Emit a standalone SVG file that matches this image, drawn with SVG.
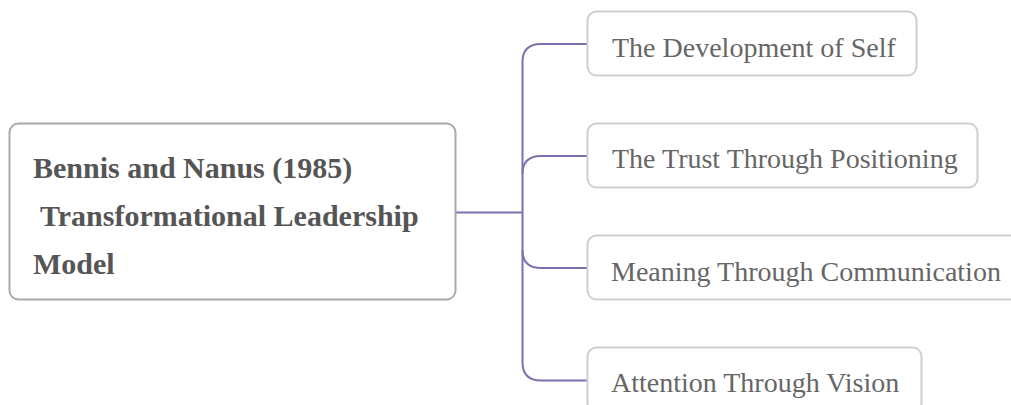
<svg xmlns="http://www.w3.org/2000/svg" width="1011" height="405" viewBox="0 0 1011 405">
<style>
.box{fill:#fff;stroke:#d0cece;stroke-width:2}
.main{fill:#fff;stroke:#aaa;stroke-width:2}
.ct{font-family:"Liberation Serif","Times New Roman",serif;font-size:28px;fill:#666}
.mt{font-family:"Liberation Serif","Times New Roman",serif;font-size:30px;font-weight:bold;fill:#555}
.conn{fill:none;stroke:#7b70b3;stroke-width:2}
</style>
<rect width="1011" height="405" fill="#fff"/>
<g id="connectors">
<path class="conn" d="M456 212.5 H522.5"/>
<path class="conn" d="M587 44 H541 Q522.5 44 522.5 62 V362 Q522.5 380.5 541 380.5 H587"/>
<path class="conn" d="M587 156 H541 Q522.5 156 522.5 174"/>
<path class="conn" d="M587 268 H541 Q522.5 268 522.5 250"/>
</g>
<g id="root">
<rect class="main" x="9.5" y="123.5" width="446" height="176" rx="9"/>
<text class="mt" x="33" y="178">Bennis and Nanus (1985)</text>
<text class="mt" x="40" y="226">Transformational Leadership</text>
<text class="mt" x="33" y="274">Model</text>
</g>
<g id="n1">
<rect class="box" x="587.5" y="11.5" width="329" height="64" rx="9"/>
<text class="ct" x="612" y="57">The Development of Self</text>
</g>
<g id="n2">
<rect class="box" x="587.5" y="123.5" width="390" height="64" rx="9"/>
<text class="ct" x="612" y="168">The Trust Through Positioning</text>
</g>
<g id="n3">
<rect class="box" x="587.5" y="235.5" width="440" height="64" rx="9"/>
<text class="ct" x="611" y="281">Meaning Through Communication</text>
</g>
<g id="n4">
<rect class="box" x="587.5" y="347.5" width="334" height="64" rx="9"/>
<text class="ct" x="611" y="392">Attention Through Vision</text>
</g>
</svg>
